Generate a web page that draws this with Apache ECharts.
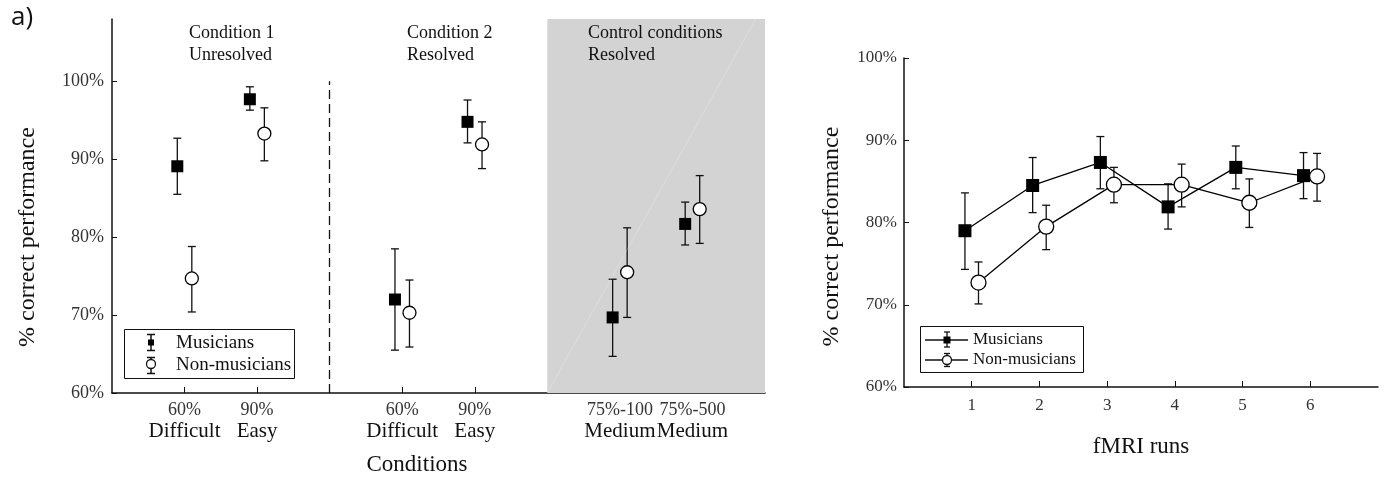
<!DOCTYPE html>
<html>
<head>
<meta charset="utf-8">
<script src="https://cdn.jsdelivr.net/npm/echarts@6/dist/echarts.min.js"></script>
<style>
  html, body { margin: 0; padding: 0; background: #fff; }
  #chart { width: 1395px; height: 482px; }
</style>
</head>
<body>
<div id="chart"></div>
<script>
// panel a, left: conditions
const condPos = [1, 2, 4, 5, 7, 8]
const condTop = ['60%', '90%', '60%', '90%', '75%-100', '75%-500']
const condBottom = ['Difficult', 'Easy', 'Difficult', 'Easy', 'Medium', 'Medium']
const musMean = [89.1, 97.7, 72.0, 94.8, 69.7, 81.7]
const musLow = [85.5, 96.3, 65.5, 92.1, 64.7, 79.0]
const musHigh = [92.7, 99.3, 78.5, 97.6, 74.6, 84.5]
const nonMean = [74.7, 93.3, 70.3, 91.9, 75.5, 83.6]
const nonLow = [70.4, 89.8, 65.9, 88.8, 69.7, 79.2]
const nonHigh = [78.8, 96.6, 74.5, 94.8, 81.2, 87.9]
const headers = ['Condition 1\nUnresolved', 'Condition 2\nResolved', 'Control conditions\nResolved']

// panel a, right: fMRI runs
const runs = [1, 2, 3, 4, 5, 6]
const runMus = [79.0, 84.5, 87.3, 81.9, 86.7, 85.7]
const runMusLow = [74.3, 81.2, 84.1, 79.2, 84.1, 82.9]
const runMusHigh = [83.6, 87.9, 90.45, 84.7, 89.3, 88.5]
const runNon = [72.7, 79.5, 84.6, 84.6, 82.4, 85.6]
const runNonLow = [70.1, 76.7, 82.4, 81.9, 79.4, 82.6]
const runNonHigh = [75.2, 82.1, 86.7, 87.1, 85.3, 88.4]

const yTicks = [60, 70, 80, 90, 100]
const groupNames = ['Musicians', 'Non-musicians']

const serif = '"Liberation Serif", "DejaVu Serif", serif'
const ink = '#111'
const dodge = 0.1

const pts = (xs, ys, off) => xs.map((x, i) => [x + off, ys[i]])
const bars = (xs, lo, hi, off) => xs.map((x, i) => [x + off, lo[i], hi[i]])

const errorBar = (cap) => (params, api) => {
  const top = api.coord([api.value(0), api.value(2)])
  const bot = api.coord([api.value(0), api.value(1)])
  const st = { stroke: ink, lineWidth: 1.3 }
  return {
    type: 'group',
    children: [
      { type: 'line', shape: { x1: top[0], y1: top[1], x2: bot[0], y2: bot[1] }, style: st },
      { type: 'line', shape: { x1: top[0] - cap, y1: top[1], x2: top[0] + cap, y2: top[1] }, style: st },
      { type: 'line', shape: { x1: bot[0] - cap, y1: bot[1], x2: bot[0] + cap, y2: bot[1] }, style: st }
    ]
  }
}

const errSeries = (data, gi, cap) => ({
  type: 'custom',
  xAxisIndex: gi,
  yAxisIndex: gi,
  renderItem: errorBar(cap),
  encode: { x: 0, y: [1, 2] },
  data: data,
  silent: true,
  z: 2
})

const chart = echarts.init(document.getElementById('chart'))

const option = {
  animation: false,
  backgroundColor: '#fff',
  title: [
    { text: 'a)', left: 6, top: 0, textStyle: { fontFamily: '"Open Sans", "Noto Sans", sans-serif', fontSize: 26, fontWeight: 'normal', color: ink } },
    ...headers.map((h, i) => ({
      text: h,
      left: [184, 402, 583][i],
      top: 17,
      textStyle: { fontFamily: serif, fontSize: 18, fontWeight: 'normal', lineHeight: 22, color: ink }
    }))
  ],
  grid: [
    { left: 112, top: 19, width: 653, height: 374, outerBoundsMode: 'none' },
    { left: 904, top: 58, width: 474, height: 329, outerBoundsMode: 'none' }
  ],
  xAxis: [
    {
      gridIndex: 0,
      type: 'value',
      min: 0,
      max: 9,
      name: 'Conditions',
      nameLocation: 'middle',
      nameGap: 60,
      nameTextStyle: { fontFamily: serif, fontSize: 23, color: ink, padding: [0, 43, 0, 0] },
      axisLine: { lineStyle: { color: ink, width: 1.5 } },
      axisTick: { inside: true, length: 6, customValues: condPos, lineStyle: { color: ink } },
      axisLabel: {
        customValues: condPos,
        margin: 8,
        formatter: (v) => {
          const i = condPos.indexOf(v)
          return i < 0 ? '' : '{a|' + condTop[i] + '}\n{b|' + condBottom[i] + '}'
        },
        rich: {
          a: { fontFamily: serif, fontSize: 18, lineHeight: 19, color: '#333' },
          b: { fontFamily: serif, fontSize: 21, lineHeight: 23, color: ink }
        }
      },
      splitLine: { show: false }
    },
    {
      gridIndex: 1,
      type: 'value',
      min: 0,
      max: 7,
      name: 'fMRI runs',
      nameLocation: 'middle',
      nameGap: 48,
      nameTextStyle: { fontFamily: serif, fontSize: 23, color: ink },
      axisLine: { lineStyle: { color: ink, width: 1.5 } },
      axisTick: { inside: true, length: 6, customValues: runs, lineStyle: { color: ink } },
      axisLabel: { customValues: runs, margin: 10, fontFamily: serif, fontSize: 17, color: '#333' },
      splitLine: { show: false }
    }
  ],
  yAxis: [
    {
      gridIndex: 0,
      type: 'value',
      min: 60,
      max: 108,
      name: '% correct performance',
      nameLocation: 'middle',
      nameGap: 72,
      nameTextStyle: { fontFamily: serif, fontSize: 24, color: ink, padding: [0, 62, 0, 0] },
      axisLine: { show: true, lineStyle: { color: ink, width: 1.5 } },
      axisTick: { show: true, inside: true, length: 5, customValues: yTicks, lineStyle: { color: ink } },
      axisLabel: { customValues: yTicks, margin: 8, formatter: '{value}%', fontFamily: serif, fontSize: 18, color: '#333' },
      splitLine: { show: false }
    },
    {
      gridIndex: 1,
      type: 'value',
      min: 60,
      max: 100,
      interval: 10,
      name: '% correct performance',
      nameLocation: 'middle',
      nameGap: 60,
      nameTextStyle: { fontFamily: serif, fontSize: 24, color: ink, padding: [0, 28, 0, 0] },
      axisLine: { show: true, lineStyle: { color: ink, width: 1.5 } },
      axisTick: { show: true, inside: true, length: 5, lineStyle: { color: ink } },
      axisLabel: { margin: 7, formatter: '{value}%', fontFamily: serif, fontSize: 17, color: '#333' },
      splitLine: { show: false }
    }
  ],
  series: [
    // shading and separator for the left panel
    {
      type: 'line',
      xAxisIndex: 0,
      yAxisIndex: 0,
      data: [],
      z: -1,
      silent: true,
      markArea: {
        silent: true,
        itemStyle: { color: '#d3d3d3' },
        data: [[{ coord: [6, 60] }, { coord: [9, 108] }]]
      },
      markLine: {
        silent: true,
        symbol: 'none',
        label: { show: false },
        data: [
          [{ coord: [3, 60], lineStyle: { color: ink, width: 1.3, type: [9, 5] } }, { coord: [3, 100] }],
          [{ coord: [6, 60], lineStyle: { color: 'rgba(255,255,255,0.22)', width: 1, type: 'solid' } }, { coord: [8.87, 108] }]
        ]
      }
    },
    errSeries(bars(condPos, musLow, musHigh, -dodge), 0, 4),
    errSeries(bars(condPos, nonLow, nonHigh, dodge), 0, 4),
    {
      name: groupNames[0],
      type: 'scatter',
      xAxisIndex: 0,
      yAxisIndex: 0,
      symbol: 'rect',
      symbolSize: 12,
      itemStyle: { color: '#000', opacity: 1 },
      data: pts(condPos, musMean, -dodge),
      z: 3
    },
    {
      name: groupNames[1],
      type: 'scatter',
      xAxisIndex: 0,
      yAxisIndex: 0,
      symbol: 'circle',
      symbolSize: 13,
      itemStyle: { color: '#fff', borderColor: '#000', borderWidth: 1.3, opacity: 1 },
      data: pts(condPos, nonMean, dodge),
      z: 3
    },
    errSeries(bars(runs, runMusLow, runMusHigh, -dodge), 1, 4),
    errSeries(bars(runs, runNonLow, runNonHigh, dodge), 1, 4),
    {
      name: groupNames[0],
      type: 'line',
      xAxisIndex: 1,
      yAxisIndex: 1,
      symbol: 'rect',
      symbolSize: 13,
      showAllSymbol: true,
      itemStyle: { color: '#000' },
      lineStyle: { color: '#000', width: 1.3 },
      data: pts(runs, runMus, -dodge),
      z: 3
    },
    {
      name: groupNames[1],
      type: 'line',
      xAxisIndex: 1,
      yAxisIndex: 1,
      symbol: 'circle',
      symbolSize: 15,
      showAllSymbol: true,
      itemStyle: { color: '#fff', borderColor: '#000', borderWidth: 1.3 },
      lineStyle: { color: '#000', width: 1.3 },
      data: pts(runs, runNon, dodge),
      z: 3
    }
  ],
  graphic: [
    // legend, left panel
    { type: 'rect', shape: { x: 124.5, y: 329.5, width: 170, height: 49 }, style: { fill: '#fff', stroke: ink, lineWidth: 1 }, z: 10 },
    { type: 'line', shape: { x1: 151, y1: 334.5, x2: 151, y2: 350.5 }, style: { stroke: ink, lineWidth: 1.5 }, z: 11 },
    { type: 'line', shape: { x1: 147, y1: 334.5, x2: 155, y2: 334.5 }, style: { stroke: ink, lineWidth: 1.5 }, z: 11 },
    { type: 'line', shape: { x1: 147, y1: 350.5, x2: 155, y2: 350.5 }, style: { stroke: ink, lineWidth: 1.5 }, z: 11 },
    { type: 'rect', shape: { x: 148, y: 339.5, width: 6, height: 6 }, style: { fill: '#000' }, z: 12 },
    { type: 'line', shape: { x1: 151, y1: 357.5, x2: 151, y2: 373.5 }, style: { stroke: ink, lineWidth: 1.5 }, z: 11 },
    { type: 'line', shape: { x1: 147, y1: 357.5, x2: 155, y2: 357.5 }, style: { stroke: ink, lineWidth: 1.5 }, z: 11 },
    { type: 'line', shape: { x1: 147, y1: 373.5, x2: 155, y2: 373.5 }, style: { stroke: ink, lineWidth: 1.5 }, z: 11 },
    { type: 'circle', shape: { cx: 151, cy: 364, r: 4.5 }, style: { fill: '#fff', stroke: ink, lineWidth: 1.3 }, z: 12 },
    { type: 'text', x: 176, y: 343, style: { text: groupNames[0], fontFamily: serif, fontSize: 19, fill: ink, verticalAlign: 'middle' }, z: 12 },
    { type: 'text', x: 176, y: 365, style: { text: groupNames[1], fontFamily: serif, fontSize: 19, fill: ink, verticalAlign: 'middle' }, z: 12 },
    // legend, right panel
    { type: 'rect', shape: { x: 920.5, y: 326.5, width: 163, height: 46 }, style: { fill: '#fff', stroke: ink, lineWidth: 1 }, z: 10 },
    { type: 'line', shape: { x1: 925, y1: 340, x2: 968, y2: 340 }, style: { stroke: ink, lineWidth: 1.3 }, z: 11 },
    { type: 'line', shape: { x1: 947, y1: 332, x2: 947, y2: 347 }, style: { stroke: ink, lineWidth: 1.3 }, z: 11 },
    { type: 'line', shape: { x1: 944, y1: 332, x2: 950, y2: 332 }, style: { stroke: ink, lineWidth: 1.3 }, z: 11 },
    { type: 'line', shape: { x1: 944, y1: 347, x2: 950, y2: 347 }, style: { stroke: ink, lineWidth: 1.3 }, z: 11 },
    { type: 'rect', shape: { x: 943.5, y: 336.5, width: 7, height: 7 }, style: { fill: '#000' }, z: 12 },
    { type: 'line', shape: { x1: 925, y1: 360, x2: 968, y2: 360 }, style: { stroke: ink, lineWidth: 1.3 }, z: 11 },
    { type: 'line', shape: { x1: 947, y1: 353.5, x2: 947, y2: 366.5 }, style: { stroke: ink, lineWidth: 1.3 }, z: 11 },
    { type: 'line', shape: { x1: 944, y1: 353.5, x2: 950, y2: 353.5 }, style: { stroke: ink, lineWidth: 1.3 }, z: 11 },
    { type: 'line', shape: { x1: 944, y1: 366.5, x2: 950, y2: 366.5 }, style: { stroke: ink, lineWidth: 1.3 }, z: 11 },
    { type: 'circle', shape: { cx: 947, cy: 360, r: 4.5 }, style: { fill: '#fff', stroke: ink, lineWidth: 1.3 }, z: 12 },
    { type: 'text', x: 973, y: 340, style: { text: groupNames[0], fontFamily: serif, fontSize: 17, fill: ink, verticalAlign: 'middle' }, z: 12 },
    { type: 'text', x: 973, y: 360, style: { text: groupNames[1], fontFamily: serif, fontSize: 17, fill: ink, verticalAlign: 'middle' }, z: 12 }
  ]
}

chart.setOption(option)
</script>
</body>
</html>
